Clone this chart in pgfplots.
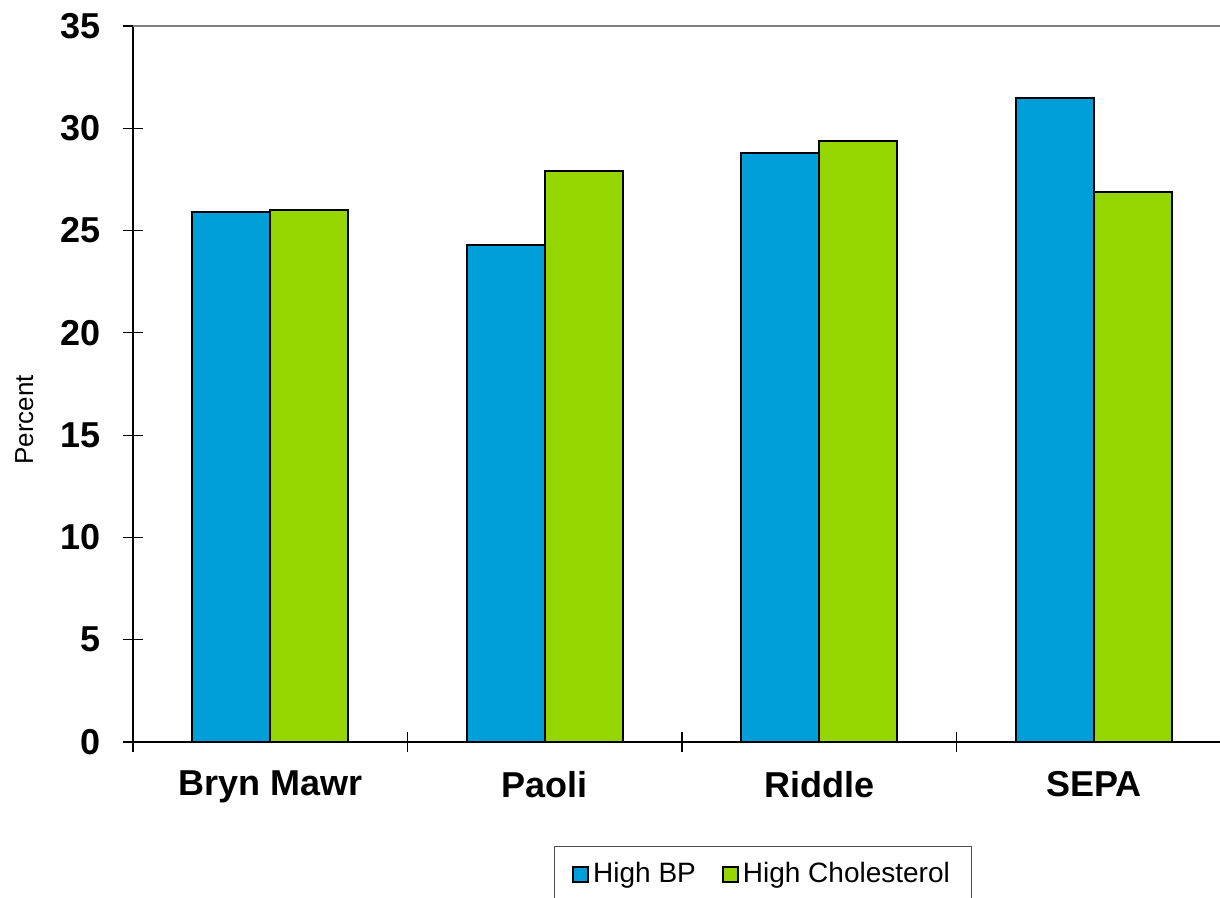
\documentclass[border=0pt]{standalone}
\usepackage{pgfplots}
\pgfplotsset{compat=1.18}
\usepackage{fontspec}
\setmainfont{Liberation Sans}
\definecolor{bpblue}{RGB}{0,159,218}
\definecolor{cholgreen}{RGB}{149,213,0}
\begin{document}
\begin{tikzpicture}
\path[use as bounding box] (0,0) rectangle (610pt,449pt);
\begin{axis}[
  at={(66.5pt,78pt)}, anchor=south west,
  scale only axis, width=543.5pt, height=358pt,
  xmin=-0.5, xmax=3.46, ymin=0, ymax=35,
  axis x line*=bottom, axis y line*=left,
  axis line style={black, line width=0.75pt},
  ybar=0pt, bar width=39pt,
  ytick={0,5,...,35},
  xtick={0,1,2,3},
  xticklabels={Bryn Mawr,Paoli,Riddle,SEPA},
  x tick style={draw=none},
  extra x ticks={-0.5,0.5,1.5,2.5},
  extra x tick labels={},
  extra x tick style={x tick style={draw=black, line width=0.6pt}, major tick length=10pt, tick align=center},
  y tick style={black, line width=0.6pt},
  major tick length=10pt, tick align=center,
  extra y ticks={35}, extra y tick labels={},
  extra y tick style={grid=major, major grid style={gray, line width=1.2pt}, major tick length=0pt},
  /pgf/number format/assume math mode=true,
  yticklabel style={font=\fontsize{18}{20}\selectfont\bfseries, xshift=-7.5pt},
  xticklabel style={font=\fontsize{18}{20}\selectfont\bfseries, yshift=-6pt},
  ylabel={Percent},
  ylabel style={at={(axis description cs:-0.1,0.45)}, anchor=center, font=\fontsize{13}{15}\selectfont},
  legend style={at={(axis description cs:0.5796,-0.1453)}, anchor=north,
    draw=black!70, line width=0.6pt, font=\fontsize{14}{16}\selectfont,
    legend columns=2, inner xsep=9pt, inner ysep=6pt,
    /tikz/every even column/.append style={column sep=11pt}},
  legend image code/.code={\draw[#1, draw=black, line width=1pt] (0pt,-3.8pt) rectangle (7.5pt,3.8pt);},
  legend cell align=left,
]
\addplot[fill=bpblue, draw=black, line width=1pt] coordinates {(0,25.9) (1,24.3) (2,28.8) (3,31.5)};
\addplot[fill=cholgreen, draw=black, line width=1pt] coordinates {(0,26.0) (1,27.9) (2,29.4) (3,26.9)};
\legend{High BP,High Cholesterol}
\end{axis}
\end{tikzpicture}
\end{document}
